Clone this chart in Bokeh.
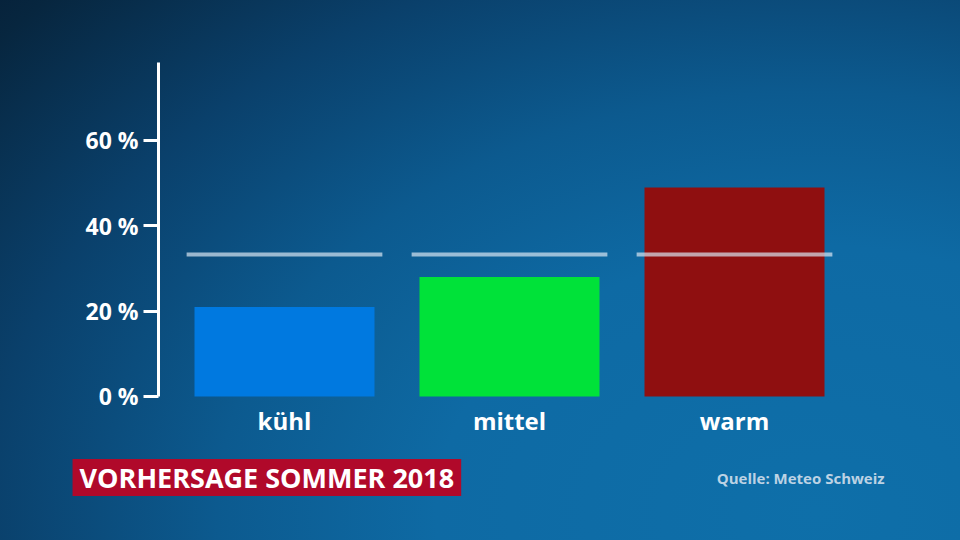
from bokeh.plotting import figure
from bokeh.models import (ColumnDataSource, Range1d, FixedTicker, Label,
                          GlobalInlineStyleSheet)
from bokeh.embed import file_html
from bokeh.resources import INLINE

# ---- data ----
categories = ["kühl", "mittel", "warm"]
probabilities = [21, 28, 49]          # forecast probability in %
climatology = [33.3, 33.3, 33.3]      # reference (normal) probability in %
bar_colors = ["#0079e0", "#00e239", "#8f0f10"]
y_ticks = [0, 20, 40, 60]
y_tick_labels = ["0 %", "20 %", "40 %", "60 %"]
title_text = "VORHERSAGE SOMMER 2018"
source_text = "Quelle: Meteo Schweiz"

xs = list(range(len(categories)))
src = ColumnDataSource(dict(x=xs, top=probabilities, color=bar_colors,
                            clim=climatology,
                            x0=[x - 0.435 for x in xs],
                            x1=[x + 0.435 for x in xs]))

FONT = "Open Sans"

p = figure(width=944, height=524, output_backend="svg", toolbar_location=None,
           x_range=Range1d(-1.2622, 2.9333), y_range=Range1d(-30.0, 92.81),
           min_border=0)
p.background_fill_alpha = 0
p.border_fill_alpha = 0
p.outline_line_color = None
p.grid.visible = False

css = ("html,body{height:100%;margin:0;padding:0;}"
       "body{background:radial-gradient(ellipse 120% 150% at 85% 95%, "
       "#0e6fa9 0%, #0e6aa4 33%, #0c5a8f 52%, #0a406b 72%, #07263f 92%, #061e36 100%) fixed;}")
p.stylesheets = [GlobalInlineStyleSheet(css=css)]

# bars
p.vbar(x="x", top="top", bottom=0, width=0.8, fill_color="color",
       line_color=None, source=src)
# climatology reference lines
p.segment(x0="x0", x1="x1", y0="clim", y1="clim", line_color="#d8e6f2",
          line_alpha=0.7, line_width=4, source=src)

# y axis
ya = p.yaxis[0]
ya.fixed_location = -0.56
ya.ticker = FixedTicker(ticks=y_ticks)
ya.major_label_overrides = {t: l for t, l in zip(y_ticks, y_tick_labels)}
ya.bounds = (0, 78.3)
ya.axis_line_color = "white"
ya.axis_line_width = 3
ya.major_tick_line_color = "white"
ya.major_tick_line_width = 3
ya.major_tick_in = 0
ya.major_tick_out = 15
ya.minor_tick_line_color = None
ya.major_label_standoff = 5
ya.major_label_text_color = "white"
ya.major_label_text_font = FONT
ya.major_label_text_font_style = "bold"
ya.major_label_text_font_size = "23px"

# x axis (category labels)
xa = p.xaxis[0]
xa.fixed_location = 0
xa.ticker = FixedTicker(ticks=xs)
xa.major_label_overrides = {x: c for x, c in zip(xs, categories)}
xa.axis_line_color = None
xa.major_tick_line_color = None
xa.minor_tick_line_color = None
xa.major_tick_in = 0
xa.major_tick_out = 0
xa.major_label_standoff = 8
xa.major_label_text_color = "white"
xa.major_label_text_font = FONT
xa.major_label_text_font_style = "bold"
xa.major_label_text_font_size = "24px"

# title box and source
p.add_layout(Label(x=-0.942, y=-19.0, text=title_text, text_align="left",
                   text_baseline="middle", text_color="white",
                   text_font=FONT, text_font_style="bold",
                   text_font_size="27px", background_fill_color="#b0092a",
                   padding=(7, 0)))
p.add_layout(Label(x=2.667, y=-19.0, text=source_text, text_align="right",
                   text_baseline="middle", text_color="#bcd2e4",
                   text_font=FONT, text_font_style="bold",
                   text_font_size="15px"))

open("out.html", "w").write(file_html(p, INLINE))
